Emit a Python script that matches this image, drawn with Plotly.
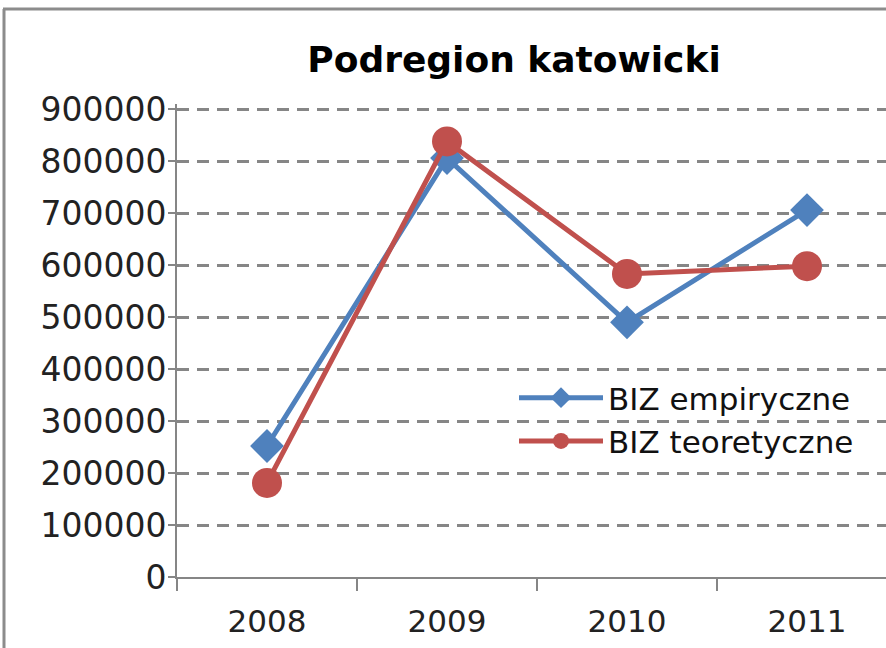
import plotly.graph_objects as go

years = ["2008", "2009", "2010", "2011"]
biz_empiryczne = [252000, 806000, 490000, 706000]
biz_teoretyczne = [181000, 838000, 583000, 598000]
y_ticks = [0, 100000, 200000, 300000, 400000, 500000, 600000, 700000, 800000, 900000]

blue = "#4F81BD"
red = "#C0504D"
grid = "#868686"

fig = go.Figure()
fig.add_trace(go.Scatter(
    x=years, y=biz_empiryczne, name="BIZ empiryczne", mode="lines+markers",
    line=dict(color=blue, width=5),
    marker=dict(symbol="diamond", size=26, color=blue),
))
fig.add_trace(go.Scatter(
    x=years, y=biz_teoretyczne, name="BIZ teoretyczne", mode="lines+markers",
    line=dict(color=red, width=5),
    marker=dict(symbol="circle", size=30, color=red),
))

L, T, B = 177, 104, 71
W, H = 886, 648
pw = W - L
ph = H - T - B

def px_x(x):
    return (x - L) / pw

def px_y(y):
    return (H - B - y) / ph

fig.update_layout(
    width=W, height=H,
    margin=dict(l=L, r=0, t=T, b=B),
    paper_bgcolor="white", plot_bgcolor="white",
    font=dict(family="DejaVu Sans", color="#222222"),
    title=dict(
        text="<b>Podregion katowicki</b>",
        font=dict(family="DejaVu Sans", size=36, color="#000000"),
        x=px_x(514), xref="paper", xanchor="center",
        y=1 - 59 / H, yref="container", yanchor="middle",
    ),
    showlegend=True,
    legend=dict(
        x=px_x(514), y=px_y(371), xanchor="left", yanchor="top",
        bgcolor="rgba(0,0,0,0)", itemwidth=84,
        font=dict(family="DejaVu Sans", size=31, color="#111111"),
    ),
    xaxis=dict(
        type="category", range=[-0.5, -0.5 + pw / 180.0],
        showgrid=False, zeroline=False,
        showline=True, linecolor=grid, linewidth=2,
        ticks="outside", ticklen=12, tickwidth=2, tickcolor=grid,
        tickson="boundaries",
        ticklabelstandoff=16,
        tickfont=dict(family="DejaVu Sans", size=31, color="#222222"),
    ),
    yaxis=dict(
        range=[0, 910000], tickvals=y_ticks,
        ticktext=[str(v) for v in y_ticks],
        showgrid=True, gridcolor=grid, gridwidth=3, griddash="12px,8px",
        zeroline=False,
        showline=True, linecolor=grid, linewidth=2,
        ticks="outside", ticklen=7, tickwidth=2, tickcolor=grid,
        ticklabelstandoff=-5,
        tickfont=dict(family="DejaVu Sans", size=33, color="#222222"),
    ),
    shapes=[
        dict(type="line", xref="paper", yref="paper",
             x0=px_x(4), x1=px_x(4), y0=px_y(660), y1=px_y(9),
             line=dict(color="#8c8c8c", width=3)),
        dict(type="line", xref="paper", yref="paper",
             x0=px_x(3), x1=px_x(900), y0=px_y(9), y1=px_y(9),
             line=dict(color="#8c8c8c", width=3)),
    ],
)

fig.write_html(
    "out.html",
    config={"displayModeBar": False},
    post_script="document.body.style.margin='0';document.body.style.overflow='hidden';",
)
